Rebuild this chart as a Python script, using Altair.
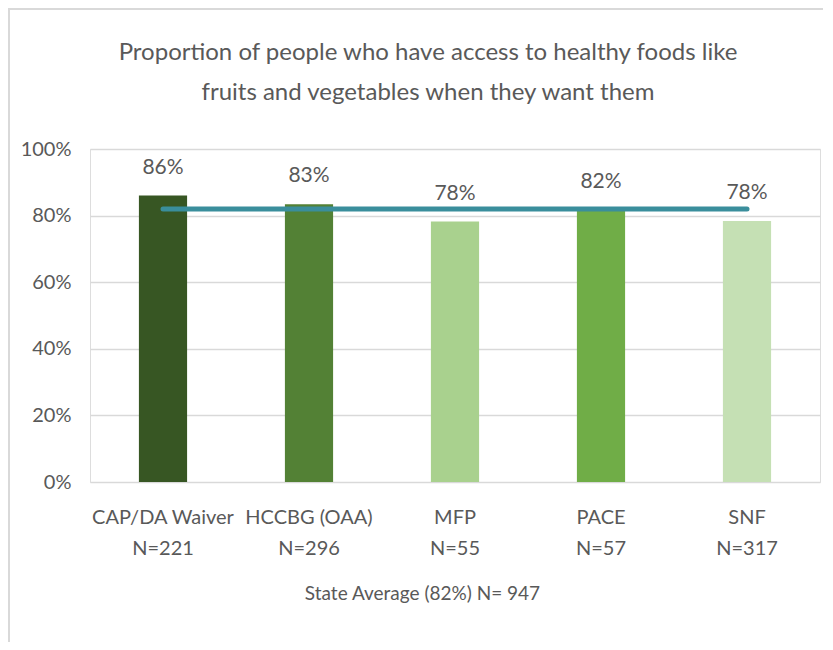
import altair as alt
import pandas as pd

categories = ["CAP/DA Waiver", "HCCBG (OAA)", "MFP", "PACE", "SNF"]
sample_sizes = ["N=221", "N=296", "N=55", "N=57", "N=317"]
values = [0.86, 0.834, 0.782, 0.818, 0.784]
state_average = [0.82, 0.82, 0.82, 0.82, 0.82]
bar_colors = ["#375623", "#538135", "#A9D18E", "#70AD47", "#C5E0B4"]

FONT = "Lato"
GREY = "#595959"

labels = [c + "|" + n for c, n in zip(categories, sample_sizes)]
df = pd.DataFrame({"label": labels, "value": values, "avg": state_average, "color": bar_colors})

x_enc = alt.X(
    "label:N",
    sort=labels,
    scale=alt.Scale(paddingInner=0.67, paddingOuter=0.335),
    axis=alt.Axis(
        title="State Average (82%) N= 947",
        labelExpr="split(datum.label, '|')",
        labelAngle=0,
        labelFont=FONT,
        labelFontSize=20,
        labelColor=GREY,
        labelLineHeight=31,
        labelPadding=25,
        ticks=False,
        domain=False,
        titleFont=FONT,
        titleFontSize=19,
        titleFontWeight="normal",
        titleColor=GREY,
        titleX=332,
        titleY=111,
        titleAlign="center",
        titleBaseline="middle",
    ),
)

y_enc = alt.Y(
    "value:Q",
    scale=alt.Scale(domain=[0, 1]),
    axis=alt.Axis(
        title=None,
        format=".0%",
        values=[0, 0.2, 0.4, 0.6, 0.8, 1.0],
        labelFont=FONT,
        labelFontSize=20,
        labelColor=GREY,
        labelPadding=19,
        ticks=False,
        domain=False,
        gridColor="#D9D9D9",
        gridWidth=1.5,
    ),
)

base = alt.Chart(df)

bars = base.mark_bar().encode(
    x=x_enc,
    y=y_enc,
    color=alt.Color("color:N", scale=None),
)

text = base.mark_text(dy=-28, fontSize=21, font=FONT, color=GREY).encode(
    x=alt.X("label:N", sort=labels),
    y="value:Q",
    text=alt.Text("value:Q", format=".0%"),
)

avg_line = base.mark_line(color="#3A8E9C", strokeWidth=5, strokeCap="round").encode(
    x=alt.X("label:N", sort=labels),
    y="avg:Q",
)

frame_df = pd.DataFrame({"a": [0]})
left_border = alt.Chart(frame_df).mark_rule(color="#D9D9D9", strokeWidth=2).encode(
    x=alt.value(-81), y=alt.value(-141), y2=alt.value(501)
)
top_border = alt.Chart(frame_df).mark_rule(color="#D9D9D9", strokeWidth=2).encode(
    x=alt.value(-82), x2=alt.value(733), y=alt.value(-140)
)

chart = (
    alt.layer(bars, avg_line, text, left_border, top_border)
    .properties(
        width=730,
        height=333,
        autosize=alt.AutoSizeParams(type="none"),
        padding={"left": 82, "top": 141, "right": 3, "bottom": 160},
        title=alt.TitleParams(
            text=["Proportion of people who have access to healthy foods like",
                  "fruits and vegetables when they want them"],
            font=FONT,
            fontSize=24,
            fontWeight="normal",
            color=GREY,
            lineHeight=40,
            anchor="middle",
            dx=-27,
            offset=-98,
        ),
    )
    .configure_view(stroke=None)
    .configure(background="white")
)

chart.save("out.html", embed_options={"renderer": "svg", "actions": False})
